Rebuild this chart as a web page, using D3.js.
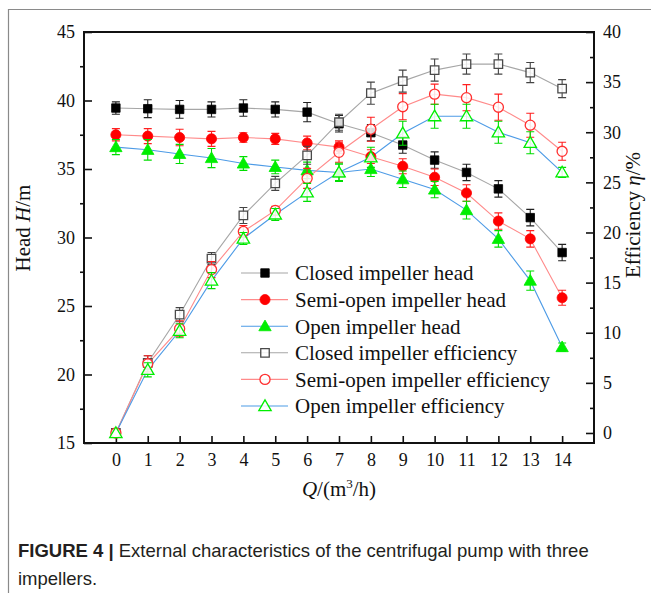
<!DOCTYPE html>
<html>
<head>
<meta charset="utf-8">
<script src="https://cdn.jsdelivr.net/npm/d3@7"></script>
<style>
  body { margin: 0; background: #fff; }
  text { font-family: "Liberation Serif", "Times New Roman", serif; fill: #111; }
  .caption { font-family: "Liberation Sans", Arial, sans-serif; fill: #231f20; }
</style>
</head>
<body>
<div id="chart"></div>
<script>
// flow rate Q (m3/h)
const flow = [0, 1, 2, 3, 4, 5, 6, 7, 8, 9, 10, 11, 12, 13, 14]

// head H (m)
const closedHead = [39.45, 39.4, 39.35, 39.35, 39.45, 39.35, 39.15, 38.3, 37.65, 36.75, 35.65, 34.75, 33.55, 31.45, 28.9]
const semiHead   = [37.5, 37.4, 37.3, 37.2, 37.3, 37.2, 36.9, 36.6, 35.9, 35.2, 34.4, 33.25, 31.2, 29.9, 25.6]
const openHead   = [36.6, 36.4, 36.1, 35.8, 35.4, 35.15, 34.9, 34.75, 35.0, 34.25, 33.5, 32.0, 29.9, 26.85, 22.0]

// efficiency (%)
const closedEff = [0, 7.0, 11.8, 17.4, 21.7, 24.9, 27.7, 31.0, 33.9, 35.1, 36.2, 36.8, 36.8, 35.95, 34.35]
const semiEff   = [0, 6.9, 10.4, 16.3, 20.1, 22.2, 25.4, 28.0, 30.3, 32.55, 33.8, 33.45, 32.5, 30.7, 28.1]
const openEff   = [0, 6.3, 10.2, 15.2, 19.4, 21.8, 24.0, 26.0, 27.5, 29.9, 31.6, 31.6, 30.0, 28.95, 26.0]

// error bar half-widths
const closedHeadErr = [0.45, 0.65, 0.65, 0.55, 0.6, 0.55, 0.7, 0.6, 0.6, 0.6, 0.6, 0.6, 0.6, 0.6, 0.6]
const semiHeadErr   = [0.45, 0.55, 0.6, 0.55, 0.35, 0.4, 0.5, 0.45, 0.5, 0.55, 0.6, 0.6, 0.6, 0.6, 0.55]
const openHeadErr   = [0.55, 0.75, 0.7, 0.7, 0.5, 0.5, 0.6, 0.6, 0.55, 0.6, 0.6, 0.65, 0.6, 0.7, 0.3]
const closedEffErr  = [0, 0.7, 0.7, 0.6, 0.8, 0.7, 0.9, 0.8, 1.1, 1.1, 1.1, 1.0, 1.0, 1.0, 0.9]
const semiEffErr    = [0, 0.8, 0.8, 0.8, 0.6, 0.4, 1.0, 1.0, 1.2, 1.3, 1.0, 1.3, 1.3, 1.2, 0.9]
const openEffErr    = [0, 0.7, 0.7, 0.8, 0.6, 0.6, 0.9, 0.9, 1.0, 1.2, 1.2, 1.2, 1.1, 1.1, 0.5]

const headTicks = [15, 20, 25, 30, 35, 40, 45]
const headMinor = [17.5, 22.5, 27.5, 32.5, 37.5, 42.5]
const effTicks = [0, 5, 10, 15, 20, 25, 30, 35, 40]
const effMinor = [2.5, 7.5, 12.5, 17.5, 22.5, 27.5, 32.5, 37.5]

const legendNames = ['Closed impeller head', 'Semi-open impeller head', 'Open impeller head',
                     'Closed impeller efficiency', 'Semi-open impeller efficiency', 'Open impeller efficiency']

const w = 651, h = 593
const pLeft = 84, pRight = 594, pTop = 32, pBottom = 443

const svg = d3.select('#chart').append('svg')
              .attr('width', w)
              .attr('height', h)

// frame of the figure panel
svg.append('path')
   .attr('d', `M8.5,${h} V9.5 H${w}`)
   .attr('fill', 'none')
   .attr('stroke', '#8a8a8a')
   .attr('stroke-width', 1.2)

const x = d3.scaleLinear().domain([-1, 15]).range([pLeft, pRight])
const yH = d3.scaleLinear().domain([15, 45]).range([pBottom, pTop])
const yE = d3.scaleLinear().domain([-1, 40]).range([pBottom, pTop])

const series = [
  { name: legendNames[0], vals: closedHead, err: closedHeadErr, y: yH, line: '#a6a6a6', mark: '#000', bar: '#222', shape: 'square', filled: true },
  { name: legendNames[1], vals: semiHead, err: semiHeadErr, y: yH, line: '#ff8a8a', mark: '#ff0000', bar: '#ff2020', shape: 'circle', filled: true },
  { name: legendNames[2], vals: openHead, err: openHeadErr, y: yH, line: '#4d9be6', mark: '#00ee00', bar: '#00dd00', shape: 'triangle', filled: true },
  { name: legendNames[3], vals: closedEff, err: closedEffErr, y: yE, line: '#a6a6a6', mark: '#4a4a4a', bar: '#444', shape: 'square', filled: false },
  { name: legendNames[4], vals: semiEff, err: semiEffErr, y: yE, line: '#ff8a8a', mark: '#ff3030', bar: '#ff2020', shape: 'circle', filled: false },
  { name: legendNames[5], vals: openEff, err: openEffErr, y: yE, line: '#4d9be6', mark: '#00ee00', bar: '#00dd00', shape: 'triangle', filled: false }
]

const symbols = {
  square: d3.symbol().type(d3.symbolSquare).size(72),
  circle: d3.symbol().type(d3.symbolCircle).size(80),
  triangle: d3.symbol().type(d3.symbolTriangle).size(66)
}

// axes
const axisStyle = (g) => {
  g.attr('font-family', null)
  g.select('.domain').remove()
  g.selectAll('.tick line').attr('stroke', '#111').attr('stroke-width', 1.6)
  g.selectAll('.tick text')
   .style('font-family', '"Liberation Serif", "Times New Roman", serif')
   .style('font-size', '18px')
   .attr('fill', '#111')
}

svg.append('g')
   .attr('transform', `translate(${pLeft},0)`)
   .call(d3.axisLeft(yH).tickValues(headTicks).tickSizeInner(-8).tickSizeOuter(0).tickPadding(9))
   .call(axisStyle)

svg.append('g')
   .attr('transform', `translate(${pLeft},0)`)
   .call(d3.axisLeft(yH).tickValues(headMinor).tickSize(4).tickFormat(''))
   .call(axisStyle)

svg.append('g')
   .attr('transform', `translate(${pRight},0)`)
   .call(d3.axisRight(yE).tickValues(effTicks).tickSizeInner(-8).tickSizeOuter(0).tickPadding(9))
   .call(axisStyle)

svg.append('g')
   .attr('transform', `translate(${pRight},0)`)
   .call(d3.axisRight(yE).tickValues(effMinor).tickSizeInner(-4).tickSizeOuter(0).tickFormat(''))
   .call(axisStyle)

svg.append('g')
   .attr('transform', `translate(0,${pBottom})`)
   .call(d3.axisBottom(x).tickValues(flow).tickSizeInner(-7).tickSizeOuter(0).tickPadding(10))
   .call(axisStyle)

svg.append('rect')
   .attr('x', pLeft)
   .attr('y', pTop)
   .attr('width', pRight - pLeft)
   .attr('height', pBottom - pTop)
   .attr('fill', 'none')
   .attr('stroke', '#111')
   .attr('stroke-width', 2)

// axis titles
const headTitle = svg.append('text')
   .attr('transform', `translate(30,228) rotate(-90)`)
   .attr('text-anchor', 'middle')
   .style('font-size', '21px')
headTitle.append('tspan').text('Head ')
headTitle.append('tspan').style('font-style', 'italic').text('H')
headTitle.append('tspan').text('/m')

const effTitle = svg.append('text')
   .attr('transform', `translate(640,215) rotate(-90)`)
   .attr('text-anchor', 'middle')
   .style('font-size', '21px')
effTitle.append('tspan').text('Efficiency ')
effTitle.append('tspan').style('font-style', 'italic').text('η')
effTitle.append('tspan').text('/%')

const qTitle = svg.append('text')
   .attr('x', (pLeft + pRight) / 2)
   .attr('y', 496)
   .attr('text-anchor', 'middle')
   .style('font-size', '21px')
qTitle.append('tspan').style('font-style', 'italic').text('Q')
qTitle.append('tspan').text('/(m')
qTitle.append('tspan').attr('dy', -8).style('font-size', '13px').text('3')
qTitle.append('tspan').attr('dy', 8).text('/h)')

// lines
const plot = svg.append('g')
series.forEach((s) => {
  const line = d3.line()
                 .x((d, i) => x(flow[i]))
                 .y((d) => s.y(d))
  plot.append('path')
      .datum(s.vals)
      .attr('d', line)
      .attr('fill', 'none')
      .attr('stroke', s.line)
      .attr('stroke-width', 1.1)
})

const drawMark = (g, s, cx, cy) => {
  g.append('path')
   .attr('d', symbols[s.shape]())
   .attr('transform', `translate(${cx},${cy + (s.shape === 'triangle' ? 1 : 0)})`)
   .attr('fill', s.filled ? s.mark : '#fff')
   .attr('fill-opacity', s.filled ? 1 : 0.85)
   .attr('stroke', s.mark)
   .attr('stroke-width', s.filled ? 0.8 : 1.3)
}

// error bars and markers
series.forEach((s) => {
  const g = plot.append('g')
  s.vals.forEach((v, i) => {
    const e = s.err[i]
    if (e > 0) {
      const cx = x(flow[i]), y1 = s.y(v - e), y2 = s.y(v + e)
      g.append('path')
       .attr('d', `M${cx},${y1} V${y2} M${cx - 4},${y1} H${cx + 4} M${cx - 4},${y2} H${cx + 4}`)
       .attr('fill', 'none')
       .attr('stroke', s.bar)
       .attr('stroke-width', 1.1)
    }
  })
  s.vals.forEach((v, i) => drawMark(g, s, x(flow[i]), s.y(v)))
})

// legend
const legend = svg.append('g')
series.forEach((s, k) => {
  const ly = 273 + k * 26.6
  legend.append('line')
        .attr('x1', 241).attr('x2', 288)
        .attr('y1', ly).attr('y2', ly)
        .attr('stroke', s.line)
        .attr('stroke-width', 1.1)
  drawMark(legend, s, 265, ly)
  legend.append('text')
        .attr('x', 295)
        .attr('y', ly)
        .attr('dy', '0.35em')
        .style('font-size', '21px')
        .text(s.name)
})

// caption
const cap = svg.append('text')
   .attr('class', 'caption')
   .attr('x', 18)
   .attr('y', 557)
   .style('font-size', '18.5px')
cap.append('tspan').style('font-weight', 'bold').text('FIGURE 4 | ')
cap.append('tspan').text('External characteristics of the centrifugal pump with three')

svg.append('text')
   .attr('class', 'caption')
   .attr('x', 18)
   .attr('y', 585)
   .style('font-size', '18.5px')
   .text('impellers.')
</script>
</body>
</html>
